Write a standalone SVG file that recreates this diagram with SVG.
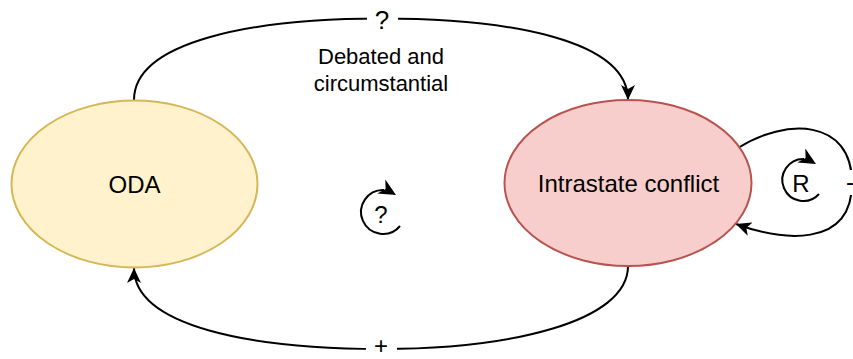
<svg xmlns="http://www.w3.org/2000/svg" xmlns:xlink="http://www.w3.org/1999/xlink" width="853" height="359" viewBox="0 0 853 359">
  <style>
    .bg { fill: #ffffff; }
    .node-oda { fill: #fff2cc; stroke: #d6b656; stroke-width: 2; }
    .node-conf { fill: #f8cecc; stroke: #b85450; stroke-width: 2; }
    .edge { fill: none; stroke: #000000; stroke-width: 2; }
    .txt { font-family: "Liberation Sans", Arial, Helvetica, sans-serif; fill: #000000; text-anchor: middle; }
    .node-label { font-size: 24px; }
    .edge-label { font-size: 22px; }
    .loop-label { font-size: 24px; }
    .sign { font-size: 26px; }
    .lbl-bg { fill: #ffffff; stroke: none; }
  </style>
  <defs>
    <!-- classic notched arrowhead, tip at the path end -->
    <marker id="arrow" markerUnits="userSpaceOnUse" markerWidth="15" markerHeight="14" viewBox="0 0 15 14" refX="15" refY="7" orient="auto">
      <path d="M0,0 L15,7 L0,14 L4,7 Z" fill="#000000"/>
    </marker>
    <!-- free-standing arrowhead for the loop symbols, tip at origin pointing +x -->
    <path id="loop-head" d="M0,0 L-17,-8 L-12,0 L-17,8 Z" fill="#000000"/>
  </defs>

  <rect class="bg" x="0" y="0" width="853" height="359"/>

  <!-- connectors -->
  <g id="connectors">
    <!-- ODA -> Intrastate conflict (top) -->
    <path class="edge" d="M134,100 C134,42 250,18.5 381,18.5 C510,18.5 628,40 628,100" marker-end="url(#arrow)"/>
    <rect class="lbl-bg" x="367" y="4" width="31" height="28"/>
    <text class="txt sign" x="382" y="29">?</text>
    <text class="txt edge-label" x="381" y="64">Debated and</text>
    <text class="txt edge-label" x="381" y="91">circumstantial</text>

    <!-- Intrastate conflict -> ODA (bottom) -->
    <path class="edge" d="M628,266 C628,322 510,349 381,349 C250,349 134,326 134,268" marker-end="url(#arrow)"/>
    <rect class="lbl-bg" x="366" y="335" width="31" height="24"/>
    <text class="txt node-label" x="381" y="354">+</text>

    <!-- Intrastate conflict self-loop -->
    <path class="edge" d="M738,148 C785,118 852,118 852,183 C852,250 780,240 736,224" marker-end="url(#arrow)"/>
    <rect class="lbl-bg" x="842" y="170" width="11" height="25"/>
    <text class="txt node-label" x="850" y="190">-</text>
  </g>

  <!-- nodes -->
  <g id="node-oda">
    <ellipse class="node-oda" cx="134.5" cy="184" rx="123" ry="83.5"/>
    <text class="txt node-label" x="134.5" y="192.5">ODA</text>
  </g>

  <g id="node-conflict">
    <ellipse class="node-conf" cx="628" cy="183" rx="123.5" ry="83"/>
    <text class="txt node-label" x="628.5" y="192">Intrastate conflict</text>
  </g>

  <!-- loop symbol: undetermined loop polarity -->
  <g id="loop-undetermined">
    <path class="edge" d="M400,226 A22,22 0 1 1 384,190"/>
    <use xlink:href="#loop-head" href="#loop-head" transform="translate(396,195) rotate(30)"/>
    <text class="txt loop-label" x="381" y="223">?</text>
  </g>

  <!-- loop symbol: reinforcing loop -->
  <g id="loop-reinforcing">
    <path class="edge" d="M819,194 A21,21 0 1 1 804,159"/>
    <use xlink:href="#loop-head" href="#loop-head" transform="translate(816,164) rotate(30)"/>
    <text class="txt loop-label" x="801" y="192">R</text>
  </g>
</svg>
